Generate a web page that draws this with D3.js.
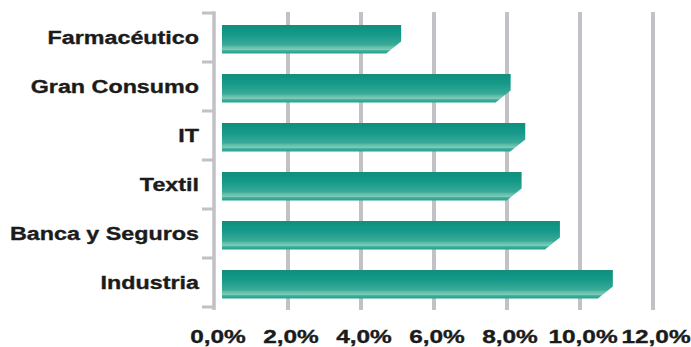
<!DOCTYPE html>
<html>
<head>
<meta charset="utf-8">
<script src="https://cdn.jsdelivr.net/npm/d3@7"></script>
<style>
  html, body { margin: 0; padding: 0; background: #ffffff; }
  svg { display: block; }
  text { font-family: "Liberation Sans", Arial, Helvetica, sans-serif; font-weight: bold; fill: #1b1b1b; stroke: #1b1b1b; stroke-width: 0.35px; }
</style>
</head>
<body>
<svg id="chart" width="691" height="347"></svg>
<script>
// Sector shares, top to bottom
const categories = ["Farmacéutico", "Gran Consumo", "IT", "Textil", "Banca y Seguros", "Industria"];
const values = [5.1, 8.1, 8.5, 8.4, 9.45, 10.9];
const tickValues = [0, 2, 4, 6, 8, 10, 12];
const tickLabels = ["0,0%", "2,0%", "4,0%", "6,0%", "8,0%", "10,0%", "12,0%"];

const svg = d3.select("#chart");
const gridColor = "#c1c1c6";

const x = d3.scaleLinear().domain([0, 12]).range([215, 653]);
const y = d3.scaleBand().domain(categories).range([13, 307]).padding(0);

// Bar fill: dark teal on top, lighter band near the bottom edge
const defs = svg.append("defs");
const grad = defs.append("linearGradient")
  .attr("id", "barFill").attr("x1", 0).attr("y1", 0).attr("x2", 0).attr("y2", 1);
[
  [0.00, "#1d8a7a"],
  [0.08, "#0e9280"],
  [0.35, "#17998a"],
  [0.70, "#3aab98"],
  [0.76, "#5fbca8"],
  [0.86, "#7ccab7"],
  [0.90, "#3fb09c"],
  [1.00, "#22a28d"]
].forEach(([o, c]) => grad.append("stop").attr("offset", o).attr("stop-color", c));

// Vertical gridlines
svg.append("g").selectAll("line")
  .data(tickValues.filter(t => t > 0))
  .join("line")
  .attr("x1", d => x(d)).attr("x2", d => x(d))
  .attr("y1", 12).attr("y2", 310)
  .attr("stroke", gridColor).attr("stroke-width", 4);

// Category axis line with boundary ticks
svg.append("line")
  .attr("x1", x(0) - 1).attr("x2", x(0) - 1)
  .attr("y1", 11.5).attr("y2", 310)
  .attr("stroke", gridColor).attr("stroke-width", 3.5);

const boundaries = categories.map(c => y(c)).concat([y.range()[1]]);
svg.append("g").selectAll("line")
  .data(boundaries)
  .join("line")
  .attr("x1", 202).attr("x2", x(0))
  .attr("y1", d => d).attr("y2", d => d)
  .attr("stroke", gridColor).attr("stroke-width", 3);

// Bars with a bevelled lower-right corner
const barTop = 12, barH = 28.5, bevelW = 15, bevelH = 12;
svg.append("g").selectAll("path")
  .data(categories.map((c, i) => ({ c, v: values[i] })))
  .join("path")
  .attr("d", d => {
    const x0 = x(0) + 7, x1 = x(d.v);
    const t = y(d.c) + barTop, b = t + barH;
    return `M${x0},${t} L${x1},${t} L${x1},${b - bevelH} L${x1 - bevelW},${b} L${x0},${b} Z`;
  })
  .attr("fill", "url(#barFill)");

// Category labels
svg.append("g").selectAll("g")
  .data(categories)
  .join("g")
  .attr("transform", d => `translate(199,${y(d) + y.bandwidth() / 2 + 6.5}) scale(1.26,1)`)
  .append("text")
  .attr("text-anchor", "end")
  .attr("font-size", 18.5)
  .text(d => d);

// Value axis labels
svg.append("g").selectAll("g")
  .data(tickValues)
  .join("g")
  .attr("transform", (d, i) => `translate(${x(d) + 3},342.5) scale(1.32,1)`)
  .append("text")
  .attr("text-anchor", "middle")
  .attr("font-size", 18.5)
  .text((d, i) => tickLabels[i]);
</script>
</body>
</html>
